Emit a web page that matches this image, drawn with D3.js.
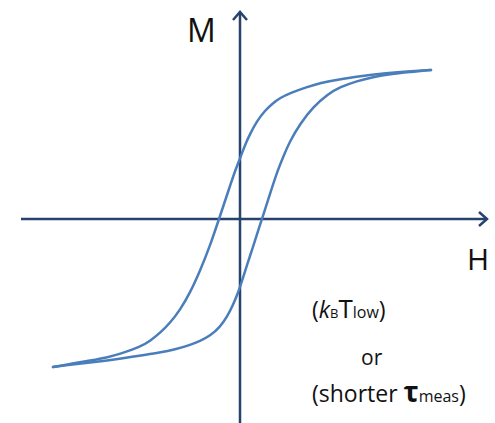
<!DOCTYPE html>
<html>
<head>
<meta charset="utf-8">
<script src="https://cdn.jsdelivr.net/npm/d3@7"></script>
<style>
  body { margin: 0; background: #fff; }
  svg { display: block; font-family: "Open Sans", "Noto Sans", sans-serif; }
</style>
</head>
<body>
<div id="chart"></div>
<script>
// * Hysteresis loop (H, M in arbitrary units)
// descending branch, from +H saturation down to -H
var upperH = [9.55, 8.0, 6.65, 5.0, 4.0, 3.35, 2.5, 2.0, 1.65, 1.25, 0.85, 0.5, 0.25, 0.05, -0.25, -0.5, -0.75, -1.0, -1.5, -2.0, -2.5, -3.0, -3.5, -4.0, -4.5, -5.0, -6.0, -6.65, -7.5, -8.35, -9.35];
var upperM = [7.45, 7.35, 7.225, 7.0, 6.8, 6.6, 6.3, 6.05, 5.8, 5.425, 4.9, 4.25, 3.7, 3.15, 2.4, 1.65, 0.9, 0.15, -1.35, -2.6, -3.7, -4.55, -5.2, -5.7, -6.1, -6.4, -6.75, -6.925, -7.075, -7.225, -7.4];
// ascending branch, from -H saturation up to +H
var lowerH = [-9.35, -8.35, -7.5, -6.65, -5.75, -5.0, -4.0, -3.25, -2.5, -2.0, -1.5, -1.0, -0.65, -0.35, -0.1, 0.1, 0.35, 0.65, 0.9, 1.1, 1.5, 1.85, 2.2, 2.5, 3.0, 3.65, 4.4, 5.0, 5.85, 6.65, 7.5, 8.5, 9.55];
var lowerM = [-7.4, -7.275, -7.175, -7.075, -6.95, -6.825, -6.675, -6.525, -6.3, -6.1, -5.85, -5.4, -4.9, -4.3, -3.7, -3.1, -2.3, -1.4, -0.6, 0.0, 1.25, 2.35, 3.2, 3.9, 4.75, 5.6, 6.25, 6.6, 6.9, 7.1, 7.25, 7.35, 7.45];

// * axis extents (same units)
var hAxisRange = [-10.95, 12.35];
var mAxisRange = [-10.2, 10.35];

var width = 495, height = 423;

var x = d3.scaleLinear().domain([-10, 10]).range([40, 440]);
var y = d3.scaleLinear().domain([-10, 10]).range([419, 19]);

var svg = d3.select("#chart")
  .append("svg")
  .attr("width", width)
  .attr("height", height);

var axisColor = "#26426d";
var curveColor = "#4a7ebb";

// * axes
svg.append("line")
  .attr("x1", x(hAxisRange[0])).attr("x2", x(hAxisRange[1]))
  .attr("y1", y(0)).attr("y2", y(0))
  .attr("stroke", axisColor).attr("stroke-width", 2.5);

svg.append("line")
  .attr("x1", x(0)).attr("x2", x(0))
  .attr("y1", y(mAxisRange[0])).attr("y2", y(mAxisRange[1]))
  .attr("stroke", axisColor).attr("stroke-width", 2.5);

// arrow heads (open chevrons)
var hx = x(hAxisRange[1]), hy = y(0);
svg.append("path")
  .attr("d", "M" + (hx - 8) + "," + (hy - 7) + "L" + hx + "," + hy + "L" + (hx - 8) + "," + (hy + 7))
  .attr("fill", "none").attr("stroke", axisColor).attr("stroke-width", 2.5);

var vx = x(0), vy = y(mAxisRange[1]);
svg.append("path")
  .attr("d", "M" + (vx - 7) + "," + (vy + 8) + "L" + vx + "," + vy + "L" + (vx + 7) + "," + (vy + 8))
  .attr("fill", "none").attr("stroke", axisColor).attr("stroke-width", 2.5);

// * loop branches
var line = d3.line()
  .x(function (d) { return x(d[0]); })
  .y(function (d) { return y(d[1]); })
  .curve(d3.curveBasis);

[d3.zip(upperH, upperM), d3.zip(lowerH, lowerM)].forEach(function (pts) {
  svg.append("path")
    .datum(pts)
    .attr("d", line)
    .attr("fill", "none")
    .attr("stroke", curveColor)
    .attr("stroke-width", 2.5)
    .attr("stroke-linecap", "round");
});

// * labels
svg.append("text")
  .attr("x", 187).attr("y", 42)
  .attr("font-size", 32)
  .attr("fill", "#111")
  .text("M");

svg.append("text")
  .attr("x", 467).attr("y", 270)
  .attr("font-size", 30)
  .attr("fill", "#111")
  .text("H");

var t1 = svg.append("text")
  .attr("x", 312).attr("y", 318)
  .attr("font-size", 23)
  .attr("fill", "#111");
t1.append("tspan").text("(");
t1.append("tspan").attr("font-style", "italic").text("k");
t1.append("tspan").attr("font-size", 13).text("B");
t1.append("tspan").attr("font-size", 26).text("T");
t1.append("tspan").attr("font-size", 16).text("low");
t1.append("tspan").text(")");

svg.append("text")
  .attr("x", 361).attr("y", 365)
  .attr("font-size", 21)
  .attr("fill", "#111")
  .text("or");

var t2 = svg.append("text")
  .attr("x", 312).attr("y", 402)
  .attr("font-size", 23)
  .attr("fill", "#111");
t2.append("tspan").text("(shorter ");
t2.append("tspan").attr("font-size", 28).attr("font-weight", "bold").text("τ");
t2.append("tspan").attr("font-size", 16).text("meas");
t2.append("tspan").text(")");
</script>
</body>
</html>
